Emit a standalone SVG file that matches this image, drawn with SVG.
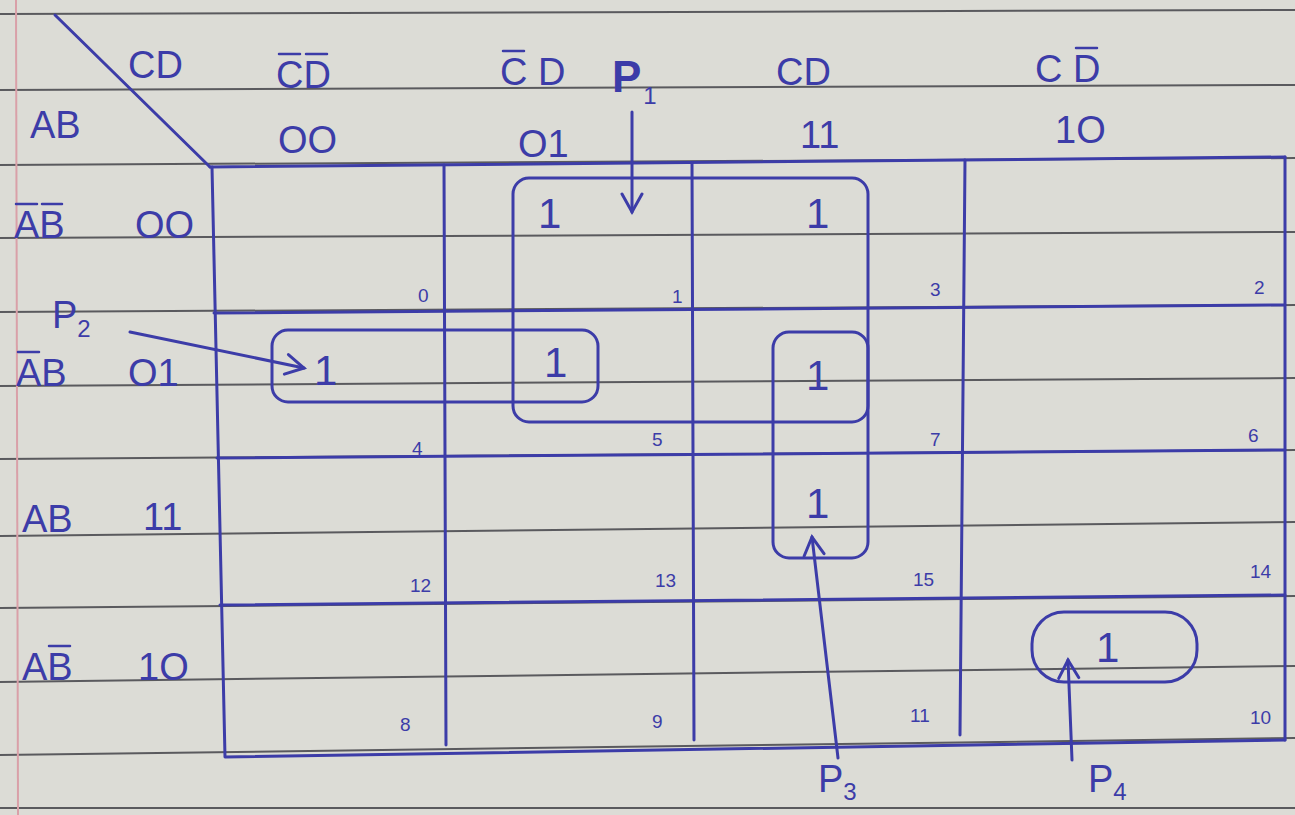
<svg xmlns="http://www.w3.org/2000/svg" width="1295" height="815" viewBox="0 0 1295 815">
<defs>
<style>
.ink{fill:none;stroke:#3c3ca8;stroke-width:3;stroke-linecap:round;stroke-linejoin:round}
.rule{stroke:#5a5a5e;stroke-width:2}
.t{font-family:"Liberation Sans",Arial,sans-serif;fill:#3c3ca8}
.h{font-size:38px}
.n{font-size:19px}
.one{font-size:42px}
.bar{stroke:#3c3ca8;stroke-width:2.5;stroke-linecap:round}
</style>
<marker id="ahb" viewBox="0 0 24 24" refX="20" refY="12" markerWidth="24" markerHeight="24" markerUnits="userSpaceOnUse" orient="auto">
<path d="M2,2 L20,12 L2,22" fill="none" stroke="#3c3ca8" stroke-width="3" stroke-linecap="round"/>
</marker>
</defs>
<rect width="1295" height="815" fill="#dcdcd6"/>
<g id="paper">
<line class="rule" x1="0" y1="14" x2="1295" y2="10"/>
<line class="rule" x1="0" y1="90" x2="1295" y2="85"/>
<line class="rule" x1="0" y1="165" x2="1295" y2="158"/>
<line class="rule" x1="0" y1="238" x2="1295" y2="232"/>
<line class="rule" x1="0" y1="312" x2="1295" y2="305"/>
<line class="rule" x1="0" y1="386" x2="1295" y2="378"/>
<line class="rule" x1="0" y1="459" x2="1295" y2="450"/>
<line class="rule" x1="0" y1="536" x2="1295" y2="522"/>
<line class="rule" x1="0" y1="608" x2="1295" y2="596"/>
<line class="rule" x1="0" y1="682" x2="1295" y2="666"/>
<line class="rule" x1="0" y1="755" x2="1295" y2="738"/>
<line class="rule" x1="0" y1="808" x2="1295" y2="808"/>
<line x1="16" y1="0" x2="18" y2="815" stroke="#d9a0a8" stroke-width="2"/>
</g>
<g id="grid">
<line class="ink" x1="55" y1="15" x2="210" y2="167"/>
<path class="ink" d="M210,167 L1285,157"/>
<path class="ink" d="M212,167 L225,757 L1285,740"/>
<line class="ink" x1="444" y1="165" x2="446" y2="745"/>
<line class="ink" x1="692" y1="163" x2="694" y2="740"/>
<line class="ink" x1="965" y1="160" x2="960" y2="735"/>
<line class="ink" x1="1285" y1="157" x2="1285" y2="740"/>
<line class="ink" x1="214" y1="313" x2="1285" y2="305"/>
<line class="ink" x1="217" y1="458" x2="1285" y2="450"/>
<line class="ink" x1="220" y1="605" x2="1285" y2="595"/>
</g>
<g id="headers">
<text class="t h" x="128" y="78">CD</text>
<text class="t h" x="30" y="138">AB</text>
<text class="t h" x="276" y="88">CD</text>
<line class="bar" x1="279" y1="54" x2="300" y2="54"/><line class="bar" x1="306" y1="54" x2="327" y2="54"/>
<text class="t h" x="278" y="153">OO</text>
<text class="t h" x="500" y="85">C D</text>
<line class="bar" x1="503" y1="51" x2="524" y2="51"/>
<text class="t h" x="518" y="157">O1</text>
<text class="t h" x="776" y="85">CD</text>
<text class="t h" x="800" y="148">11</text>
<text class="t h" x="1035" y="82">C D</text>
<line class="bar" x1="1076" y1="48" x2="1097" y2="48"/>
<text class="t h" x="1055" y="143">1O</text>
<text class="t h" x="14" y="238">AB</text>
<line class="bar" x1="16" y1="204" x2="37" y2="204"/><line class="bar" x1="42" y1="204" x2="62" y2="204"/>
<text class="t h" x="135" y="238">OO</text>
<text class="t h" x="16" y="386">AB</text>
<line class="bar" x1="18" y1="352" x2="39" y2="352"/>
<text class="t h" x="128" y="386">O1</text>
<text class="t h" x="22" y="532">AB</text>
<text class="t h" x="143" y="530">11</text>
<text class="t h" x="22" y="680">AB</text>
<line class="bar" x1="49" y1="646" x2="70" y2="646"/>
<text class="t h" x="138" y="680">1O</text>
</g>
<g id="cells">
<text class="t n" x="418" y="302">0</text>
<text class="t n" x="672" y="303">1</text>
<text class="t n" x="930" y="296">3</text>
<text class="t n" x="1254" y="294">2</text>
<text class="t n" x="412" y="455">4</text>
<text class="t n" x="652" y="446">5</text>
<text class="t n" x="930" y="446">7</text>
<text class="t n" x="1248" y="442">6</text>
<text class="t n" x="410" y="592">12</text>
<text class="t n" x="655" y="587">13</text>
<text class="t n" x="913" y="586">15</text>
<text class="t n" x="1250" y="578">14</text>
<text class="t n" x="400" y="731">8</text>
<text class="t n" x="652" y="728">9</text>
<text class="t n" x="910" y="722">11</text>
<text class="t n" x="1250" y="724">10</text>
<text class="t one" x="538" y="228">1</text>
<text class="t one" x="806" y="228">1</text>
<text class="t one" x="314" y="385">1</text>
<text class="t one" x="544" y="377">1</text>
<text class="t one" x="806" y="390">1</text>
<text class="t one" x="806" y="518">1</text>
<text class="t one" x="1096" y="662">1</text>
</g>
<g id="P1"><rect class="ink" x="513" y="178" width="355" height="244" rx="16"/>
<text class="t" x="612" y="92" font-size="44" font-weight="bold">P<tspan font-size="24" font-weight="normal" dy="12" dx="2">1</tspan></text></g>
<g id="P2"><rect class="ink" x="272" y="330" width="326" height="72" rx="16"/>
<text class="t h" x="52" y="328">P<tspan font-size="24" dy="9">2</tspan></text></g>
<g id="P3"><rect class="ink" x="773" y="332" width="95" height="226" rx="16"/>
<text class="t h" x="818" y="792">P<tspan font-size="24" dy="8">3</tspan></text></g>
<g id="P4"><rect class="ink" x="1032" y="612" width="165" height="70" rx="32"/>
<text class="t h" x="1088" y="792">P<tspan font-size="24" dy="8">4</tspan></text></g>
<g id="connectors">
<line class="ink" x1="632" y1="112" x2="632" y2="212" marker-end="url(#ahb)"/>
<line class="ink" x1="130" y1="332" x2="304" y2="368" marker-end="url(#ahb)"/>
<line class="ink" x1="838" y1="758" x2="812" y2="537" marker-end="url(#ahb)"/>
<line class="ink" x1="1072" y1="760" x2="1068" y2="660" marker-end="url(#ahb)"/>
</g>
</svg>
